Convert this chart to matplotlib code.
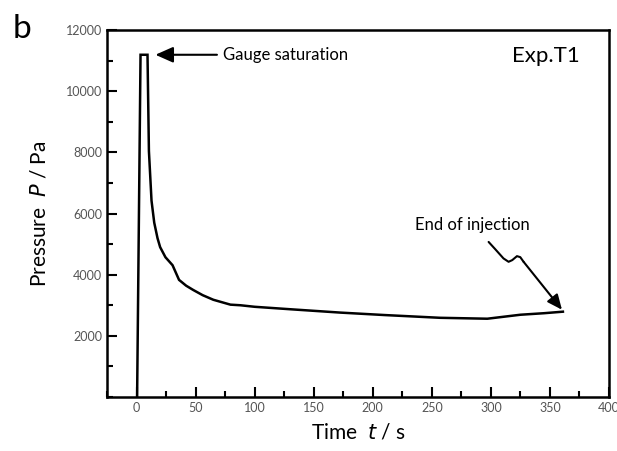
import numpy as np
import matplotlib
matplotlib.use("Agg")
import matplotlib.pyplot as plt
from matplotlib.ticker import MultipleLocator, FixedLocator

plt.rcParams['font.family'] = ['Lato', 'DejaVu Sans']

# Pressure trace (Exp.T1)
time_s = [0.5, 3.4, 9.3, 10.5, 12.7, 15, 17.8, 20, 24.5, 30.5, 36, 42, 48, 56,
          65, 79.5, 88, 100, 130, 172.6, 210, 257, 297, 325, 345, 361]
pressure_pa = [0, 11190, 11190, 8040, 6420, 5700, 5190, 4900, 4570, 4310, 3830,
               3640, 3500, 3330, 3180, 3020, 3000, 2950, 2870, 2760, 2680, 2590,
               2560, 2690, 2740, 2790]

# wavy arrow shaft for "End of injection"
wiggle_t = [298.1, 303.7, 310.7, 315.0, 318.1, 322.1, 324.9, 327.7]
wiggle_p = [5070, 4833, 4531, 4421, 4476, 4606, 4573, 4421]

x_ticks = [0, 50, 100, 150, 200, 250, 300, 350, 400]
y_ticks = [2000, 4000, 6000, 8000, 10000, 12000]

fig = plt.figure(figsize=(6.17, 4.51), dpi=100)
ax = fig.add_axes([0.1734, 0.1197, 0.8136, 0.8138])

ax.plot(time_s, pressure_pa, color='black', lw=1.8, solid_joinstyle='miter')

ax.set_xlim(-25, 400)
ax.set_ylim(0, 12000)
ax.xaxis.set_major_locator(FixedLocator(x_ticks))
ax.xaxis.set_minor_locator(MultipleLocator(25))
ax.yaxis.set_major_locator(FixedLocator(y_ticks))
ax.yaxis.set_minor_locator(MultipleLocator(1000))
ax.tick_params(which='both', direction='in', top=False, right=False,
               labelsize=9, labelcolor='#555555', width=1.5)
ax.tick_params(which='major', length=7)
ax.tick_params(which='minor', length=4)
for s in ax.spines.values():
    s.set_linewidth(1.8)

ax.set_xlabel(r'Time  $t$ / s', fontsize=15, labelpad=6)
ax.set_ylabel(r'Pressure  $P$ / Pa', fontsize=15, labelpad=12)

# annotations
ax.annotate('Gauge saturation', xy=(16, 11190), xytext=(72.8, 11190),
            fontsize=12, va='center', ha='left',
            arrowprops=dict(arrowstyle='-|>,head_length=0.9,head_width=0.4',
                            color='black', lw=1.5, shrinkA=2, shrinkB=0))
ax.text(375, 11150, 'Exp.T1', fontsize=16, ha='right', va='center')

ax.plot(wiggle_t, wiggle_p, color='black', lw=1.5, solid_capstyle='round',
        solid_joinstyle='round')
ax.annotate('', xy=(360.2, 2854), xytext=(wiggle_t[-1], wiggle_p[-1]),
            arrowprops=dict(arrowstyle='-|>,head_length=0.9,head_width=0.4',
                            color='black', lw=1.5, shrinkA=0, shrinkB=0))
ax.text(284, 5610, 'End of injection', fontsize=12, ha='center', va='center')

fig.text(0.02, 0.935, 'b', fontsize=24, va='center', ha='left')

fig.savefig('out.png', dpi=100)
